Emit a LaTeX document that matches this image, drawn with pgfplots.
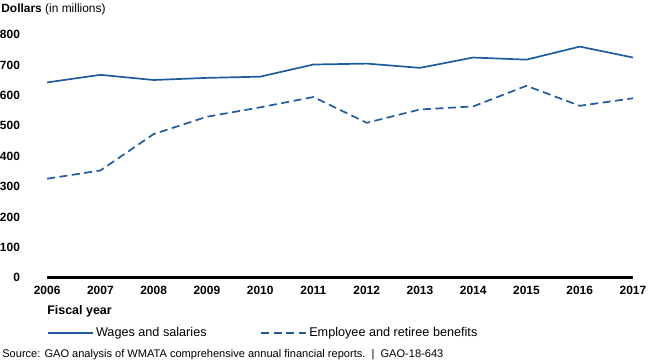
\documentclass[border=0pt]{standalone}
\usepackage{pgfplots}
\pgfplotsset{compat=1.18}
\usepackage{fontspec}
\setmainfont{Liberation Sans}
\definecolor{gaoblue}{HTML}{1F5C9E}
\begin{document}
\begin{tikzpicture}
\begin{axis}[
  scale only axis,
  width=586bp, height=243bp,
  xmin=2006, xmax=2017,
  ymin=0, ymax=800,
  axis y line*=left,
  y axis line style={draw=none},
  axis x line*=bottom,
  x axis line style={line width=3.5bp, black, -},
  xtick={2006,...,2017},
  ytick={0,100,...,800},
  major tick length=0pt,
  /pgf/number format/assume math mode=true,
  xticklabel={\pgfmathprintnumber[1000 sep={}]{\tick}},
  xticklabel style={font=\fontsize{12}{14}\selectfont\bfseries, yshift=-5bp, inner xsep=0pt},
  yticklabel style={font=\fontsize{12}{14}\selectfont\bfseries, inner xsep=0pt, xshift=-27bp},
  clip=false,
  legend style={at={(rel axis cs:0,0)}, anchor=west, yshift=-55bp, xshift=0bp,
    draw=none, fill=none, inner sep=0pt, font=\fontsize{12.7}{14}\selectfont,
    /tikz/every even column/.append style={column sep=52bp}},
  legend columns=2,
  legend cell align=left,
  legend image code/.code={\draw[#1, gaoblue, line width=1.7bp] (0bp,0bp) -- (45bp,0bp);},
]
\addplot[gaoblue, line width=1.7bp] coordinates {
(2006,643) (2007,668) (2008,651) (2009,658) (2010,662) (2011,702)
(2012,705) (2013,691) (2014,725) (2015,718) (2016,761) (2017,725)};
\addlegendentry{Wages and salaries}
\addplot[gaoblue, line width=1.7bp, dash pattern=on 8bp off 4.5bp] coordinates {
(2006,326) (2007,353) (2008,473) (2009,530) (2010,561) (2011,595)
(2012,510) (2013,554) (2014,564) (2015,632) (2016,566) (2017,591)};
\addlegendentry{Employee and retiree benefits}
\node[anchor=west, inner sep=0pt, font=\fontsize{12}{14}\selectfont] (dl) at ([xshift=-46bp, yshift=25bp]rel axis cs:0,1) {\textbf{Dollars} (in millions)};
\path ([yshift=4bp]dl.north west) -- ([yshift=-4bp]dl.south west);
\path ([xshift=17bp]rel axis cs:1,0) -- ([xshift=17bp]rel axis cs:1,1);
\node[anchor=west, inner sep=0pt, font=\fontsize{12.5}{14}\selectfont\bfseries] at ([yshift=-34bp]rel axis cs:0,0) {Fiscal year};
\node[anchor=west, inner sep=0pt, font=\fontsize{11.1}{12}\selectfont] at ([xshift=-45bp, yshift=-77bp]rel axis cs:0,0) {Source: GAO analysis of WMATA comprehensive annual financial reports.\ \ |\ \ GAO-18-643};
\end{axis}
\end{tikzpicture}
\end{document}
